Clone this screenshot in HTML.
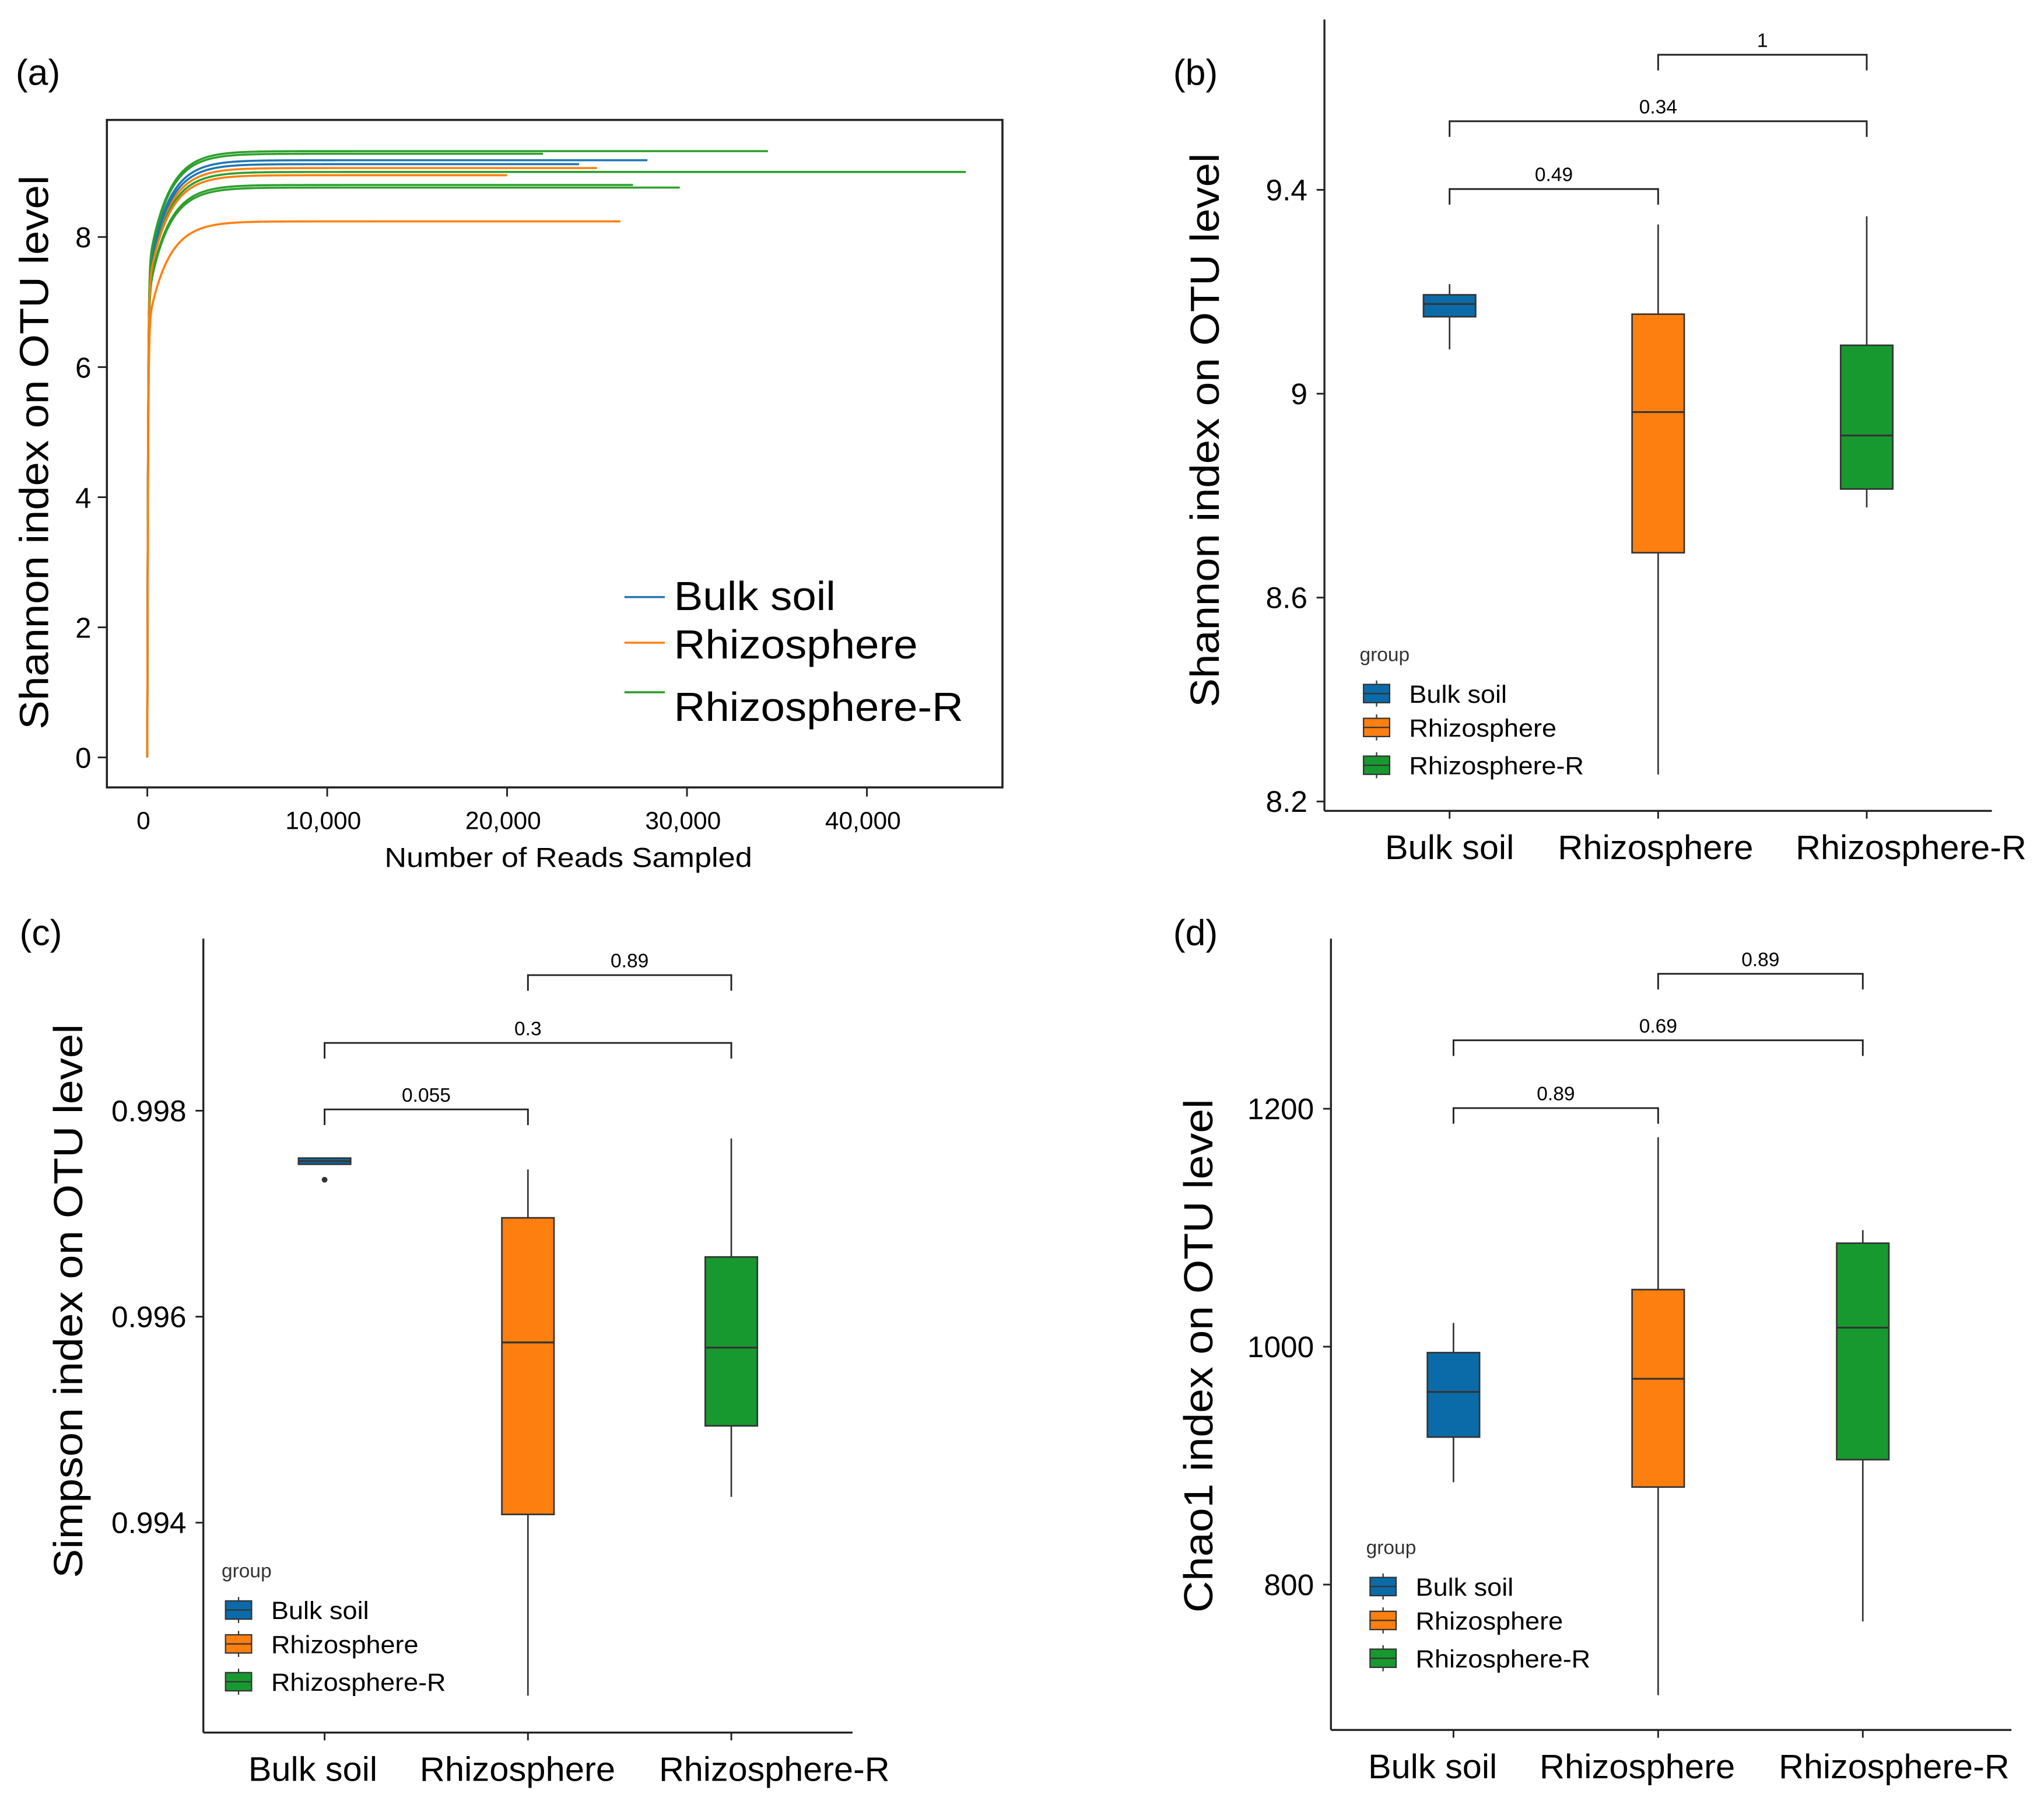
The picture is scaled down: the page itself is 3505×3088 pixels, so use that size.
<!DOCTYPE html>
<html><head><meta charset="utf-8"><style>
html,body{margin:0;padding:0;background:#fff}
svg{display:block;font-family:"Liberation Sans",Arial,sans-serif}
</style></head><body>
<svg id="fig" width="3505" height="3088" viewBox="0 0 1568 1381.5" preserveAspectRatio="none" xmlns="http://www.w3.org/2000/svg">
<rect width="1568" height="1382" fill="#fff"/>
<g id="pa"></g>
<g id="pb"></g>
<g id="pc"></g>
<g id="pd"></g>
</svg>
<script>
// ---- Panel (a) data ----
const aEndReads=[27800,25000,34500,45500,29600,27000,26300,24000,22000,20000];
const aFinalH=[9.18,9.06,9.32,9.0,8.76,8.8,8.24,9.12,9.28,8.95];
const aGroup=[0,1,2,2,2,2,1,0,2,1];
const aXTicks=[0,10000,20000,30000,40000];
const aXTickLabels=["0","10,000","20,000","30,000","40,000"];
const aYTicks=[0,2,4,6,8];
// ---- Box panels data ----
const categories=["Bulk soil","Rhizosphere","Rhizosphere-R"];
const bLow=[9.087,8.253,8.777], bQ1=[9.151,8.688,8.813], bMed=[9.176,8.964,8.918], bQ3=[9.194,9.156,9.095], bHigh=[9.215,9.332,9.348];
const bTicks=[8.2,8.6,9.0,9.4], bTickLabels=["8.2","8.6","9","9.4"];
const bP=["0.49","0.34","1"];
const cLow=[0.99748,0.99232,0.99425], cQ1=[0.99748,0.99408,0.99494], cMed=[0.99751,0.99575,0.9957], cQ3=[0.99754,0.99696,0.99658], cHigh=[0.99754,0.99743,0.99773];
const cOutliers=[[0,0.99733]];
const cTicks=[0.994,0.996,0.998], cTickLabels=["0.994","0.996","0.998"];
const cP=["0.055","0.3","0.89"];
const dLow=[886,707,769], dQ1=[924,882,905], dMed=[962,973,1016], dQ3=[995,1048,1087], dHigh=[1020,1176,1098];
const dTicks=[800,1000,1200], dTickLabels=["800","1000","1200"];
const dP=["0.89","0.69","0.89"];

const NS="http://www.w3.org/2000/svg";
const lineCols=["#1f77b4","#ff7f0e","#2ca02c"];
const boxCols=["#0b6ba8","#fd7f0f","#18992f"];
const catLabW=[99,150,177];
function mk(parent,tag,attrs,text){const e=document.createElementNS(NS,tag);for(const k in attrs)e.setAttribute(k,attrs[k]);if(text!==undefined)e.textContent=text;parent.appendChild(e);return e;}

// ---- Panel (a) ----
(function(){
const g=document.getElementById('pa');
const ax=v=>113+v*0.0138, ay=v=>581-v*49.9;
let t=mk(g,'text',{x:12,y:65,'font-size':28},'(a)');


let r=mk(g,'rect',{x:82,y:92,width:687,height:512,fill:'none',stroke:'#222','stroke-width':1.6});


aXTicks.forEach((v,i)=>{
  let l=mk(g,'line',{x1:ax(v),x2:ax(v),y1:604,y2:611,stroke:'#222','stroke-width':1.3});
  
  
  let tx=mk(g,'text',{x:ax(v)-3,y:636,'font-size':19,'text-anchor':'middle'},aXTickLabels[i]);
  
  
});
aYTicks.forEach(v=>{
  let l=mk(g,'line',{x1:75,x2:82,y1:ay(v),y2:ay(v),stroke:'#222','stroke-width':1.3});
  
  
  let tx=mk(g,'text',{x:70,y:ay(v)+8,'font-size':22,'text-anchor':'end'},String(v));
  
  
});
t=mk(g,'text',{x:295,y:665,'font-size':21,textLength:282,lengthAdjust:'spacingAndGlyphs'},'Number of Reads Sampled');


t=mk(g,'text',{x:0,y:0,'font-size':31,'text-anchor':'middle',textLength:425,lengthAdjust:'spacingAndGlyphs',transform:'translate(37,347) rotate(-90)'},'Shannon index on OTU level');


aEndReads.forEach((end,i)=>{
  const H=aFinalH[i];let d='';
  const n=240;
  for(let k=0;k<=n;k++){
    const x=end*Math.pow(k/n,2.4);
    const h=H*(1-0.2*Math.exp(-x/1100))*(1-Math.exp(-x/40));
    d+=(k?'L':'M')+ax(x).toFixed(2)+' '+ay(h).toFixed(2);
  }
  let p=mk(g,'path',{d:d,fill:'none',stroke:lineCols[aGroup[i]],'stroke-width':1.6});
  
  
});
const ly=[458,493,531], ty=[468,505,553], tw=[124,187,222];
categories.forEach((c,i)=>{
  let l=mk(g,'line',{x1:479,x2:510,y1:ly[i],y2:ly[i],stroke:lineCols[i],'stroke-width':1.6});
  
  
  let tx=mk(g,'text',{x:517,y:ty[i],'font-size':31,textLength:tw[i],lengthAdjust:'spacingAndGlyphs'},c);
  
  
});
})();

// ---- Box panels ----
function boxPanel(o){
  const g=document.getElementById(o.id);
  const vy=v=>o.y0+(v-o.v0)*o.k;
  let t=mk(g,'text',{x:o.labX,y:o.labY,'font-size':28},o.label);
  
  
  let l=mk(g,'line',{x1:o.axX,x2:o.axX,y1:o.axTop,y2:o.axBot,stroke:'#222','stroke-width':1.5});
  
  
  l=mk(g,'line',{x1:o.axX,x2:o.axRight,y1:o.axBot,y2:o.axBot,stroke:'#222','stroke-width':1.5});
  
  
  o.ticks.forEach((v,i)=>{
    let tl=mk(g,'line',{x1:o.axX-6,x2:o.axX,y1:vy(v),y2:vy(v),stroke:'#222','stroke-width':1.3});
    
    
    let tx=mk(g,'text',{x:o.axX-13,y:vy(v)+8,'font-size':23,'text-anchor':'end'},o.tickLabels[i]);
    
    
  });
  t=mk(g,'text',{x:0,y:0,'font-size':31,'text-anchor':'middle',textLength:o.titleW,lengthAdjust:'spacingAndGlyphs',transform:`translate(${o.titleX},${o.titleY}) rotate(-90)`},o.title);
  
  
  categories.forEach((c,i)=>{
    const cx=o.cx[i];
    let tl=mk(g,'line',{x1:cx,x2:cx,y1:o.axBot,y2:o.axBot+6,stroke:'#222','stroke-width':1.3});
    
    
    let tx=mk(g,'text',{x:o.labCx[i],y:o.axBot+37,'font-size':26,'text-anchor':'middle',textLength:catLabW[i],lengthAdjust:'spacingAndGlyphs'},c);
    
    
    let w=mk(g,'line',{x1:cx,x2:cx,y1:vy(o.hi[i]),y2:vy(o.lo[i]),stroke:'#333','stroke-width':1.2});
    
    
    const top=vy(o.q3[i]),bot=vy(o.q1[i]);
    let b=mk(g,'rect',{x:cx-20,y:top,width:40,height:Math.max(bot-top,1.5),fill:boxCols[i],stroke:'#333','stroke-width':1.2});
    
    
    let m=mk(g,'line',{x1:cx-20,x2:cx+20,y1:vy(o.med[i]),y2:vy(o.med[i]),stroke:'#333','stroke-width':1.4});
    
    
  });
  (o.out||[]).forEach(p=>{
    let c=mk(g,'circle',{cx:o.cx[p[0]],cy:vy(p[1]),r:2.2,fill:'#333'});
    
    
  });
  const pairs=[[0,1],[0,2],[1,2]];
  pairs.forEach((pr,i)=>{
    const y=o.brY[i],x1=o.cx[pr[0]],x2=o.cx[pr[1]];
    let p=mk(g,'path',{d:`M${x1} ${y+12}V${y}H${x2}V${y+12}`,fill:'none',stroke:'#222','stroke-width':1.3});
    
    
    let tx=mk(g,'text',{x:(x1+x2)/2,y:y-6,'font-size':15,'text-anchor':'middle'},o.p[i]);
    
    
  });
  t=mk(g,'text',{x:o.legX-3,y:o.legY,'font-size':15,fill:'#333'},'group');
  
  
  const off=[25,51,80], lw=[75,113,134];
  categories.forEach((c,i)=>{
    const y=o.legY+off[i];
    let ln=mk(g,'line',{x1:o.legX+10,x2:o.legX+10,y1:y-10,y2:y+10,stroke:'#333','stroke-width':1});
    
    
    let r=mk(g,'rect',{x:o.legX,y:y-7,width:20,height:14,fill:boxCols[i],stroke:'#333','stroke-width':1});
    
    
    let ml=mk(g,'line',{x1:o.legX,x2:o.legX+20,y1:y,y2:y,stroke:'#333','stroke-width':1});
    
    
    let tx=mk(g,'text',{x:o.legX+35,y:y+7,'font-size':19,textLength:lw[i],lengthAdjust:'spacingAndGlyphs'},c);
    
    
  });
}
boxPanel({id:'pb',label:'(b)',labX:900,labY:65,axX:1016,axTop:15,axBot:622,axRight:1528,v0:9.0,y0:302,k:-391,
  ticks:bTicks,tickLabels:bTickLabels,title:'Shannon index on OTU level',titleX:935,titleY:330,titleW:425,
  cx:[1112,1272,1432],labCx:[1112,1270,1466],lo:bLow,q1:bQ1,med:bMed,q3:bQ3,hi:bHigh,brY:[145,93,42],p:bP,legX:1046,legY:507});
boxPanel({id:'pc',label:'(c)',labX:15,labY:725,axX:156,axTop:720,axBot:1329,axRight:654,v0:0.996,y0:1010,k:-79000,
  ticks:cTicks,tickLabels:cTickLabels,title:'Simpson index on OTU level',titleX:63,titleY:998,titleW:425,
  cx:[249,405,561],labCx:[240,397,594],lo:cLow,q1:cQ1,med:cMed,q3:cQ3,hi:cHigh,out:cOutliers,brY:[851,800,748],p:cP,legX:173,legY:1210});
boxPanel({id:'pd',label:'(d)',labX:900,labY:725,axX:1021,axTop:720,axBot:1327,axRight:1543,v0:1000,y0:1033,k:-0.9125,
  ticks:dTicks,tickLabels:dTickLabels,title:'Chao1 index on OTU level',titleX:930,titleY:1040,titleW:394,
  cx:[1115,1272,1429],labCx:[1099,1256,1453],lo:dLow,q1:dQ1,med:dMed,q3:dQ3,hi:dHigh,brY:[850,798,747],p:dP,legX:1051,legY:1192});
</script>
</body></html>
